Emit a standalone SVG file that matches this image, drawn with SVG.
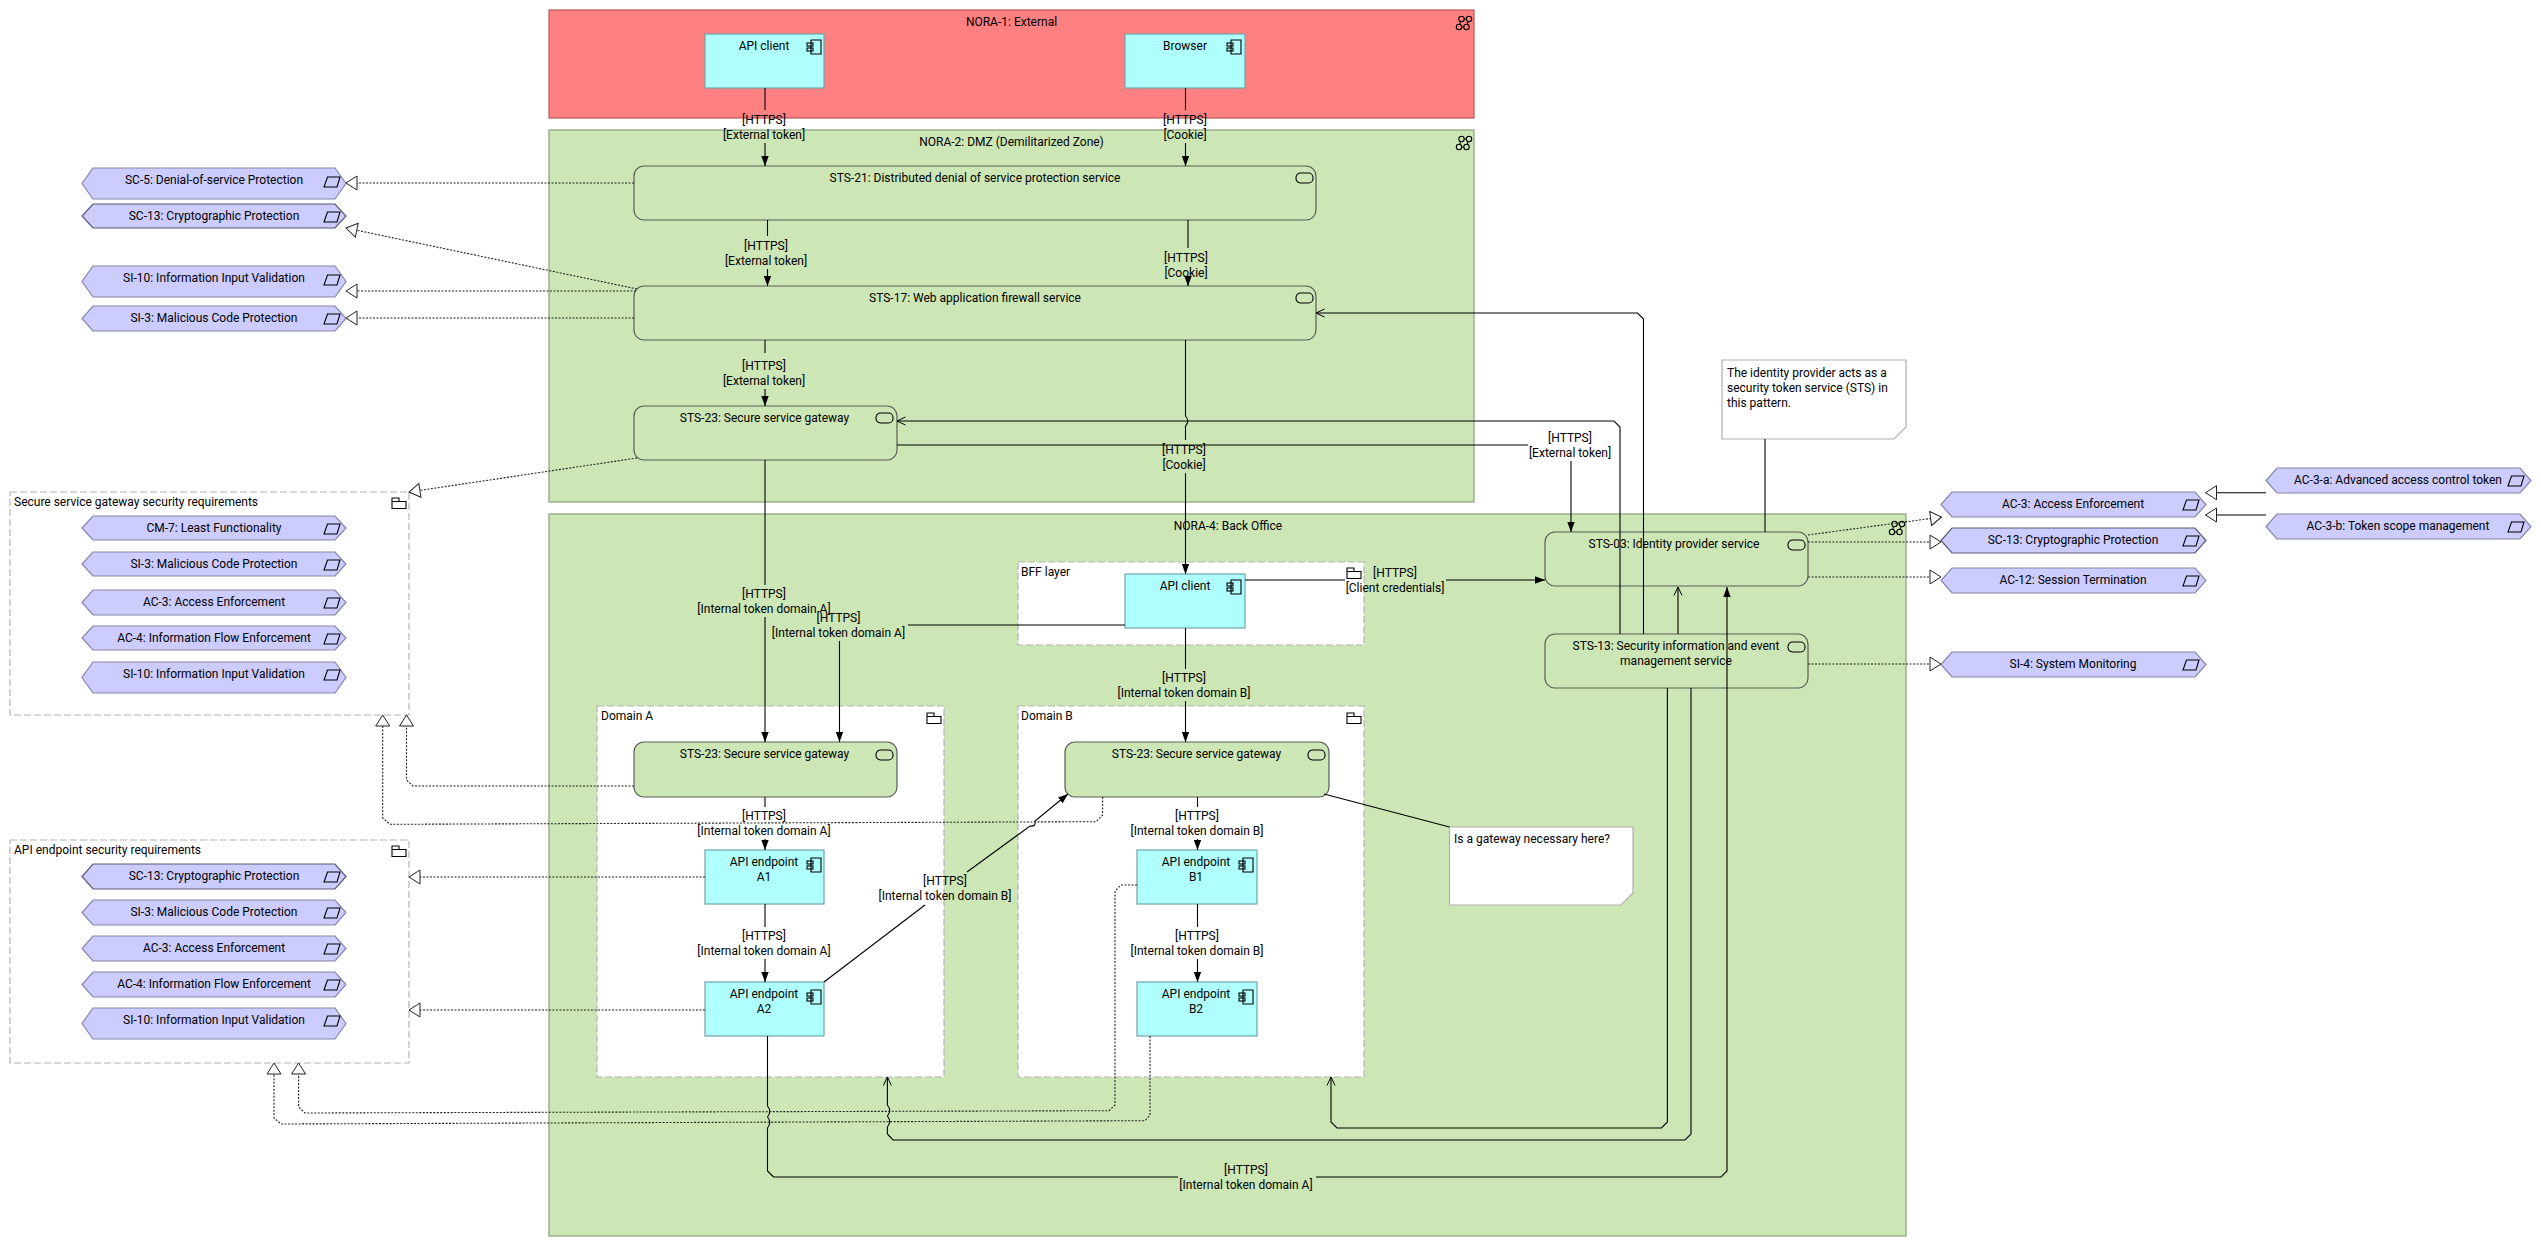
<svg xmlns="http://www.w3.org/2000/svg" width="2541" height="1247" viewBox="0 0 2541 1247">
<style>
text{font-family:Roboto,"Noto Sans","Liberation Sans",sans-serif;font-size:12px;fill:#000}
.m{text-anchor:middle}
.zr{fill:#FF8080;stroke:#B85858;stroke-width:1.2}
.zg{fill:#CCE6B5;stroke:#8A9E78;stroke-width:1.2}
.grp{fill:#fff;stroke:#B4B4B4;stroke-width:1.2;stroke-dasharray:7 3}
.app{fill:#B0FFFF;stroke:#6FA5A8;stroke-width:1.2}
.svc{fill:#CCE6B5;stroke:#5A5F58;stroke-width:1.2}
.req{fill:#CCCCFF;stroke:#8585A8;stroke-width:1.2}
.note{fill:#fff;stroke:#B0B0B0;stroke-width:1.2}
.ic{fill:none;stroke:#000;stroke-width:1.1}
#connectors path{fill:none;stroke:#000;stroke-width:1.1}
#connectors path.d{stroke-dasharray:2 1.5;stroke:#222}
.a{marker-end:url(#solid)}
.o{marker-end:url(#open)}
.h{marker-end:url(#hollow)}
</style>
<defs>
<marker id="solid" markerUnits="userSpaceOnUse" markerWidth="11" markerHeight="9" refX="10" refY="4.5" orient="auto"><path d="M0,.8L10,4.5L0,8.2z" fill="#000"/></marker>
<marker id="open" markerUnits="userSpaceOnUse" markerWidth="11" markerHeight="10" refX="9.5" refY="5" orient="auto"><path d="M1,1L9.5,5L1,9" fill="none" stroke="#000"/></marker>
<marker id="hollow" markerUnits="userSpaceOnUse" markerWidth="13" markerHeight="17" refX="12" refY="8" orient="auto"><path d="M1,1L12,8L1,15z" fill="#fff" stroke="#222"/></marker>
<g id="i-comp" class="ic"><path d="M4,0H14V14H4z"/><rect x="0" y="3" width="6" height="3"/><rect x="0" y="8" width="6" height="3"/></g>
<rect id="i-svc" class="ic" width="17" height="10" rx="4.5"/>
<path id="i-fold" class="ic" d="M0,3.5H7V0H0V3.5M0,3.5V10.5H14V3.5H7"/>
<path id="i-req" class="ic" d="M3.500,0H16L13,10H0z"/>
<g id="i-clus" class="ic"><circle cx="5.500" cy="3" r="2.700"/><circle cx="13" cy="3" r="2.700"/><circle cx="3" cy="11" r="2.700"/><circle cx="10.500" cy="11" r="2.700"/><path d="M4.500,5.500L3.800,8.500M12,5.500L11.200,8.500M8.200,3H10.300M5.700,11H7.800"/></g>
</defs>

<g id="zones">
<g id="nora1"><rect class="zr" x="549" y="10" width="925" height="108"/><text class="m" x="1011.500" y="26">NORA-1: External</text><use href="#i-clus" x="1456" y="16"/></g>
<g id="nora2"><rect class="zg" x="549" y="130" width="925" height="372"/><text class="m" x="1011.500" y="146">NORA-2: DMZ (Demilitarized Zone)</text><use href="#i-clus" x="1456" y="136"/></g>
<g id="nora4"><rect class="zg" x="549" y="514" width="1357" height="722"/><text class="m" x="1228" y="530">NORA-4: Back Office</text><use href="#i-clus" x="1889" y="521"/></g>
</g>

<g id="group-gateway-req"><rect class="grp" x="10" y="492" width="399" height="223"/><text x="14" y="506">Secure service gateway security requirements</text><use href="#i-fold" x="392" y="498"/></g>
<g id="group-endpoint-req"><rect class="grp" x="10" y="840" width="399" height="223"/><text x="14" y="854">API endpoint security requirements</text><use href="#i-fold" x="392" y="846"/></g>
<g id="group-bff"><rect class="grp" x="1018" y="562" width="346" height="83"/><text x="1021" y="576">BFF layer</text><use href="#i-fold" x="1347" y="568"/></g>
<g id="group-domain-a"><rect class="grp" x="597" y="706" width="347" height="371"/><text x="601" y="720">Domain A</text><use href="#i-fold" x="927" y="713"/></g>
<g id="group-domain-b"><rect class="grp" x="1018" y="706" width="346" height="371"/><text x="1021" y="720">Domain B</text><use href="#i-fold" x="1347" y="713"/></g>

<g id="api-client-ext"><rect class="app" x="705" y="34" width="119" height="54"/><text class="m" x="764" y="50">API client</text><use href="#i-comp" x="807" y="40"/></g>
<g id="browser"><rect class="app" x="1125" y="34" width="120" height="54"/><text class="m" x="1185" y="50">Browser</text><use href="#i-comp" x="1227" y="40"/></g>
<g id="api-client-bff"><rect class="app" x="1125" y="574" width="120" height="54"/><text class="m" x="1185" y="590">API client</text><use href="#i-comp" x="1227" y="580"/></g>
<g id="a1"><rect class="app" x="705" y="850" width="119" height="54"/><text class="m" x="764" y="866"><tspan x="764">API endpoint</tspan><tspan x="764" dy="15">A1</tspan></text><use href="#i-comp" x="807" y="858"/></g>
<g id="a2"><rect class="app" x="705" y="982" width="119" height="54"/><text class="m" x="764" y="998"><tspan x="764">API endpoint</tspan><tspan x="764" dy="15">A2</tspan></text><use href="#i-comp" x="807" y="990"/></g>
<g id="b1"><rect class="app" x="1137" y="850" width="120" height="54"/><text class="m" x="1196" y="866"><tspan x="1196">API endpoint</tspan><tspan x="1196" dy="15">B1</tspan></text><use href="#i-comp" x="1239" y="858"/></g>
<g id="b2"><rect class="app" x="1137" y="982" width="120" height="54"/><text class="m" x="1196" y="998"><tspan x="1196">API endpoint</tspan><tspan x="1196" dy="15">B2</tspan></text><use href="#i-comp" x="1239" y="990"/></g>

<g id="sts21"><rect class="svc" x="634" y="166" width="682" height="54" rx="10"/><text class="m" x="975" y="182">STS-21: Distributed denial of service protection service</text><use href="#i-svc" x="1296" y="173"/></g>
<g id="sts17"><rect class="svc" x="634" y="286" width="682" height="54" rx="10"/><text class="m" x="975" y="302">STS-17: Web application firewall service</text><use href="#i-svc" x="1296" y="293"/></g>
<g id="sts23-top"><rect class="svc" x="634" y="406" width="263" height="54" rx="10"/><text class="m" x="764.500" y="422">STS-23: Secure service gateway</text><use href="#i-svc" x="876" y="413"/></g>
<g id="sts23-a"><rect class="svc" x="634" y="742" width="263" height="55" rx="10"/><text class="m" x="764.500" y="758">STS-23: Secure service gateway</text><use href="#i-svc" x="876" y="750"/></g>
<g id="sts23-b"><rect class="svc" x="1065" y="742" width="264" height="55" rx="10"/><text class="m" x="1196.500" y="758">STS-23: Secure service gateway</text><use href="#i-svc" x="1308" y="750"/></g>
<g id="sts03"><rect class="svc" x="1545" y="532" width="263" height="54" rx="10"/><text class="m" x="1674" y="548">STS-03: Identity provider service</text><use href="#i-svc" x="1788" y="540"/></g>
<g id="sts13"><rect class="svc" x="1545" y="634" width="263" height="54" rx="10"/><text class="m" x="1676" y="650"><tspan x="1676">STS-13: Security information and event</tspan><tspan x="1676" dy="15">management service</tspan></text><use href="#i-svc" x="1788" y="642"/></g>

<g id="note1"><path class="note" d="M1722,360H1906V427L1894,439H1722z"/><text x="1727" y="377"><tspan x="1727">The identity provider acts as a</tspan><tspan x="1727" dy="15">security token service (STS) in</tspan><tspan x="1727" dy="15">this pattern.</tspan></text></g>
<g id="note2"><path class="note" d="M1449.500,827H1633V893L1621,905H1449.500z"/><text x="1454" y="843">Is a gateway necessary here?</text></g>

<g id="r1"><path class="req" d="M93,168H335L346,183.500L335,199H93L82,183.500z"/><text class="m" x="214" y="184">SC-5: Denial-of-service Protection</text><use href="#i-req" x="324" y="177"/></g>
<g id="r2"><path class="req" d="M93,204H335L346,216L335,228H93L82,216z" style="stroke:#5A5A70"/><text class="m" x="214" y="220">SC-13: Cryptographic Protection</text><use href="#i-req" x="324" y="212"/></g>
<g id="r3"><path class="req" d="M93,266H335L346,281.500L335,297H93L82,281.500z"/><text class="m" x="214" y="282">SI-10: Information Input Validation</text><use href="#i-req" x="324" y="275"/></g>
<g id="r4"><path class="req" d="M93,306H335L346,318.500L335,331H93L82,318.500z"/><text class="m" x="214" y="322">SI-3: Malicious Code Protection</text><use href="#i-req" x="324" y="314"/></g>

<g id="r5"><path class="req" d="M93,516H335L346,528L335,540H93L82,528z"/><text class="m" x="214" y="532">CM-7: Least Functionality</text><use href="#i-req" x="324" y="524"/></g>
<g id="r6"><path class="req" d="M93,552H335L346,564L335,576H93L82,564z"/><text class="m" x="214" y="568">SI-3: Malicious Code Protection</text><use href="#i-req" x="324" y="560"/></g>
<g id="r7"><path class="req" d="M93,590H335L346,602.500L335,615H93L82,602.500z"/><text class="m" x="214" y="606">AC-3: Access Enforcement</text><use href="#i-req" x="324" y="598"/></g>
<g id="r8"><path class="req" d="M93,626H335L346,638L335,650H93L82,638z"/><text class="m" x="214" y="642">AC-4: Information Flow Enforcement</text><use href="#i-req" x="324" y="634"/></g>
<g id="r9"><path class="req" d="M93,662H335L346,677.500L335,693H93L82,677.500z"/><text class="m" x="214" y="678">SI-10: Information Input Validation</text><use href="#i-req" x="324" y="670"/></g>

<g id="r10"><path class="req" d="M93,864H335L346,876.500L335,889H93L82,876.500z" style="stroke:#5A5A70"/><text class="m" x="214" y="880">SC-13: Cryptographic Protection</text><use href="#i-req" x="324" y="872"/></g>
<g id="r11"><path class="req" d="M93,900H335L346,912.500L335,925H93L82,912.500z"/><text class="m" x="214" y="916">SI-3: Malicious Code Protection</text><use href="#i-req" x="324" y="908"/></g>
<g id="r12"><path class="req" d="M93,936H335L346,948.500L335,961H93L82,948.500z"/><text class="m" x="214" y="952">AC-3: Access Enforcement</text><use href="#i-req" x="324" y="944"/></g>
<g id="r13"><path class="req" d="M93,972H335L346,984.500L335,997H93L82,984.500z"/><text class="m" x="214" y="988">AC-4: Information Flow Enforcement</text><use href="#i-req" x="324" y="980"/></g>
<g id="r14"><path class="req" d="M93,1008H335L346,1023.500L335,1039H93L82,1023.500z"/><text class="m" x="214" y="1024">SI-10: Information Input Validation</text><use href="#i-req" x="324" y="1016"/></g>

<g id="r15"><path class="req" d="M1952,492H2195L2206,504.500L2195,517H1952L1941,504.500z"/><text class="m" x="2073" y="508">AC-3: Access Enforcement</text><use href="#i-req" x="2183" y="500"/></g>
<g id="r16"><path class="req" d="M1952,528H2195L2206,540.500L2195,553H1952L1941,540.500z" style="stroke:#5A5A70"/><text class="m" x="2073" y="544">SC-13: Cryptographic Protection</text><use href="#i-req" x="2183" y="536"/></g>
<g id="r17"><path class="req" d="M1952,568H2195L2206,580.500L2195,593H1952L1941,580.500z"/><text class="m" x="2073" y="584">AC-12: Session Termination</text><use href="#i-req" x="2183" y="576"/></g>
<g id="r18"><path class="req" d="M1952,652H2195L2206,664.500L2195,677H1952L1941,664.500z"/><text class="m" x="2073" y="668">SI-4: System Monitoring</text><use href="#i-req" x="2183" y="660"/></g>
<g id="r19"><path class="req" d="M2277,468H2520L2531,480.500L2520,493H2277L2266,480.500z"/><text class="m" x="2398" y="484">AC-3-a: Advanced access control token</text><use href="#i-req" x="2508" y="476"/></g>
<g id="r20"><path class="req" d="M2277,514H2520L2531,526.500L2520,539H2277L2266,526.500z"/><text class="m" x="2398" y="530">AC-3-b: Token scope management</text><use href="#i-req" x="2508" y="522"/></g>

<g id="connectors">
<path d="M765,88V110"/><path class="a" d="M765,143V166"/>
<text class="m" x="764" y="124"><tspan x="764">[HTTPS]</tspan><tspan x="764" dy="15">[External token]</tspan></text>
<path d="M1185.500,88V110"/><path class="a" d="M1185.500,143V166"/>
<text class="m" x="1185" y="124"><tspan x="1185">[HTTPS]</tspan><tspan x="1185" dy="15">[Cookie]</tspan></text>
<path d="M767.500,220V236"/><path class="a" d="M767.500,269V286"/>
<text class="m" x="766" y="250"><tspan x="766">[HTTPS]</tspan><tspan x="766" dy="15">[External token]</tspan></text>
<path d="M1188,220V248"/><path class="a" d="M1188,278V286"/>
<text class="m" x="1186" y="262"><tspan x="1186">[HTTPS]</tspan><tspan x="1186" dy="15">[Cookie]</tspan></text>
<path d="M765,340V353"/><path class="a" d="M765,389V406"/>
<text class="m" x="764" y="370"><tspan x="764">[HTTPS]</tspan><tspan x="764" dy="15">[External token]</tspan></text>
<path d="M1185.500,340V416q4.500,5 0,10V440"/><path class="a" d="M1185.500,473V574"/>
<text class="m" x="1184" y="454"><tspan x="1184">[HTTPS]</tspan><tspan x="1184" dy="15">[Cookie]</tspan></text>
<path d="M897,445H1528"/><path class="a" d="M1571,461V532"/>
<text class="m" x="1570" y="442"><tspan x="1570">[HTTPS]</tspan><tspan x="1570" dy="15">[External token]</tspan></text>
<path class="o" d="M1620,634V427l-6,-6H897"/>
<path class="o" d="M1643.500,634V319l-6,-6H1316"/>
<path class="o" d="M1678,634V587"/>
<path d="M1245,580H1345"/><path class="a" d="M1446,580H1545"/>
<text class="m" x="1395" y="577"><tspan x="1395">[HTTPS]</tspan><tspan x="1395" dy="15">[Client credentials]</tspan></text>
<path d="M1125,625H908"/><path class="a" d="M839.500,641V742"/>
<text class="m" x="838.500" y="622"><tspan x="838.500">[HTTPS]</tspan><tspan x="838.500" dy="15">[Internal token domain A]</tspan></text>
<path d="M765,460V585"/><path class="a" d="M765,617V742"/>
<text class="m" x="764" y="598"><tspan x="764">[HTTPS]</tspan><tspan x="764" dy="15">[Internal token domain A]</tspan></text>
<path d="M1185.500,628V669"/><path class="a" d="M1185.500,701V742"/>
<text class="m" x="1184" y="682"><tspan x="1184">[HTTPS]</tspan><tspan x="1184" dy="15">[Internal token domain B]</tspan></text>
<path d="M765,797V807"/><path class="a" d="M765,839V850"/>
<text class="m" x="764" y="820"><tspan x="764">[HTTPS]</tspan><tspan x="764" dy="15">[Internal token domain A]</tspan></text>
<path d="M765,904V927"/><path class="a" d="M765,959V982"/>
<text class="m" x="764" y="940"><tspan x="764">[HTTPS]</tspan><tspan x="764" dy="15">[Internal token domain A]</tspan></text>
<path d="M1197.500,797V807"/><path class="a" d="M1197.500,839V850"/>
<text class="m" x="1197" y="820"><tspan x="1197">[HTTPS]</tspan><tspan x="1197" dy="15">[Internal token domain B]</tspan></text>
<path d="M1197.500,904V927"/><path class="a" d="M1197.500,959V982"/>
<text class="m" x="1197" y="940"><tspan x="1197">[HTTPS]</tspan><tspan x="1197" dy="15">[Internal token domain B]</tspan></text>
<path d="M824,982L925,905"/><path class="a" d="M967,872L1030,826q6,1 5,-5L1068,794"/>
<text class="m" x="945" y="885"><tspan x="945">[HTTPS]</tspan><tspan x="945" dy="15">[Internal token domain B]</tspan></text>
<path d="M767.500,1036V1106q4.500,5.500 0,11q4.500,5.500 0,11V1171l6,6H1178"/><path class="a" d="M1316,1177H1721l6,-6V587"/>
<text class="m" x="1246" y="1174"><tspan x="1246">[HTTPS]</tspan><tspan x="1246" dy="15">[Internal token domain A]</tspan></text>
<path class="o" d="M1667.400,688V1122l-6,6H1337l-6,-6V1077"/>
<path class="o" d="M1691,688V1134l-6,6H893l-5.600,-6V1127q4.500,-5.500 0,-11q4.500,-5.500 0,-11V1077"/>
<path d="M1765,439V532"/>
<path d="M1324,794L1449.500,827"/>
<path class="h" d="M2266,492.700H2205.500"/>
<path class="h" d="M2266,515H2205.500"/>

<path class="d h" d="M634,183H346"/>
<path class="d h" d="M637,289L346,228"/>
<path class="d h" d="M636,291H346"/>
<path class="d h" d="M634,318H346"/>
<path class="d h" d="M637,458L409,492"/>
<path class="d h" d="M634,786H413l-6.500,-6V715"/>
<path class="d h" d="M1102.600,797V815l-6.500,6.700L390,824.300l-7.300,-6.300V715"/>
<path class="d h" d="M705,877H409"/>
<path class="d h" d="M705,1010H409"/>
<path class="d h" d="M1137,885H1121l-6,6V1105l-6,5.700L305,1113l-6.400,-6V1063"/>
<path class="d h" d="M1150,1036V1115l-5,5.700L281,1124l-7,-6V1063"/>
<path class="d h" d="M1808,535L1941.500,517"/>
<path class="d h" d="M1808,542H1941"/>
<path class="d h" d="M1808,577H1941"/>
<path class="d h" d="M1808,664H1941"/>
</g>
</svg>
